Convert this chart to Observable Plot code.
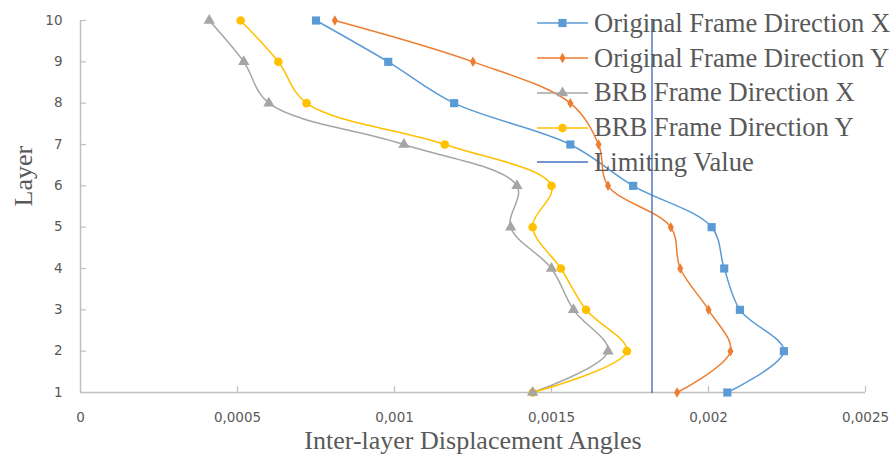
<!DOCTYPE html>
<html>
<head>
<meta charset="utf-8">
<script src="https://cdn.jsdelivr.net/npm/d3@7"></script>
<script src="https://cdn.jsdelivr.net/npm/@observablehq/plot@0.6"></script>
<style>
  html, body { margin: 0; padding: 0; background: #fff; }
  #chart { position: relative; width: 895px; height: 457px; }
  #legend {
    position: absolute; left: 537px; top: 6px;
    font-family: "Liberation Serif", "Times New Roman", serif;
    font-size: 26.6px; color: #595959;
  }
  .row { display: flex; align-items: center; height: 34.75px; white-space: nowrap; }
  .row svg { flex: none; margin-right: 6px; }
</style>
</head>
<body>
<div id="chart"></div>
<script>
// Storey (layer) numbers and tick labels
const layers = [1, 2, 3, 4, 5, 6, 7, 8, 9, 10];
const xTicks = [0, 0.0005, 0.001, 0.0015, 0.002, 0.0025];
const xTickLabels = ["0", "0,0005", "0,001", "0,0015", "0,002", "0,0025"];

// Inter-layer displacement angle per layer (layer 1 → 10)
const originalX = [0.00206, 0.00224, 0.00210, 0.00205, 0.00201, 0.00176, 0.00156, 0.00119, 0.00098, 0.00075];
const originalY = [0.00190, 0.00207, 0.00200, 0.00191, 0.00188, 0.00168, 0.00165, 0.00156, 0.00125, 0.00081];
const brbX      = [0.00144, 0.00168, 0.00157, 0.00150, 0.00137, 0.00139, 0.00103, 0.00060, 0.00052, 0.00041];
const brbY      = [0.00144, 0.00174, 0.00161, 0.00153, 0.00144, 0.00150, 0.00116, 0.00072, 0.00063, 0.00051];

// Code limit for the drift angle
const limitValue = 0.00182;
const limitLayers = [1, 10];

const seriesNames = [
  "Original Frame Direction X",
  "Original Frame Direction Y",
  "BRB Frame Direction X",
  "BRB Frame Direction Y"
];
const seriesValues = [originalX, originalY, brbX, brbY];
const seriesColors = ["#5B9BD5", "#ED7D31", "#A5A5A5", "#FFC000"];
const seriesSymbols = ["square", "diamond", "triangle", "circle"];
const seriesRadius = [4.6, 3.2, 4.2, 4.3];
const limitName = "Limiting Value";
const limitColor = "#4472C4";

const rows = seriesNames.flatMap((name, s) =>
  layers.map((layer, i) => ({series: name, layer, value: seriesValues[s][i], r: seriesRadius[s]}))
);
const limitRows = limitLayers.map(layer => ({layer, value: limitValue}));

const axisGray = "#BFBFBF";
const textGray = "#595959";
const titleFont = "Liberation Serif, Times New Roman, serif";

const plot = Plot.plot({
  width: 895,
  height: 457,
  marginLeft: 80,
  marginRight: 30,
  marginTop: 20,
  marginBottom: 65,
  style: {background: "transparent"},
  x: {domain: [0, 0.0025], ticks: xTicks},
  y: {domain: [1, 10], ticks: layers},
  color: {domain: seriesNames, range: seriesColors},
  symbol: {domain: seriesNames, range: seriesSymbols},
  r: {type: "identity"},
  marks: [
    // axis lines and inward tick marks
    Plot.ruleX([0], {stroke: axisGray, strokeWidth: 1.5}),
    Plot.ruleY([1], {stroke: axisGray, strokeWidth: 1.5}),
    Plot.ruleX(xTicks.slice(1), {stroke: axisGray, strokeWidth: 1.2, insetTop: 366}),
    Plot.ruleY(layers.slice(1), {stroke: axisGray, strokeWidth: 1.2, insetRight: 779}),
    Plot.axisX({
      ticks: xTicks,
      tickSize: 0,
      tickPadding: 20,
      tickFormat: d => xTickLabels[xTicks.indexOf(d)],
      fontFamily: "DejaVu Sans, sans-serif",
      fontSize: 13.5,
      fill: textGray,
      label: null
    }),
    Plot.axisY({
      ticks: layers,
      tickSize: 0,
      tickPadding: 18,
      tickFormat: d => String(d),
      fontFamily: "DejaVu Sans, sans-serif",
      fontSize: 13.5,
      fill: textGray,
      label: null
    }),
    // axis titles
    Plot.text(["Inter-layer Displacement Angles"], {
      frameAnchor: "bottom", lineAnchor: "bottom", dy: 56,
      fontFamily: titleFont, fontSize: 26, fill: textGray
    }),
    Plot.text(["Layer"], {
      frameAnchor: "left", lineAnchor: "bottom", rotate: -90, dx: -49,
      fontFamily: titleFont, fontSize: 26, fill: textGray
    }),
    // smoothed series curves
    Plot.line(rows, {
      x: "value", y: "layer", z: "series", stroke: "series",
      curve: "catmull-rom", strokeWidth: 1.5
    }),
    Plot.dot(rows, {
      x: "value", y: "layer", symbol: "series", fill: "series", r: "r", stroke: "none"
    }),
    // limiting drift angle
    Plot.line(limitRows, {x: "value", y: "layer", stroke: limitColor, strokeWidth: 1.4})
  ]
});

const chart = document.getElementById("chart");
chart.appendChild(plot);

// legend overlaid at the upper right of the plot
const legend = d3.select(chart).append("div").attr("id", "legend");
const entries = seriesNames.map((name, i) => ({
  name, color: seriesColors[i], symbol: seriesSymbols[i], r: seriesRadius[i]
})).concat([{name: limitName, color: limitColor, symbol: null, r: 0}]);

const symbolTypes = {
  square: d3.symbolSquare, diamond: d3.symbolDiamond,
  triangle: d3.symbolTriangle, circle: d3.symbolCircle
};

for (const e of entries) {
  const row = legend.append("div").attr("class", "row");
  const svg = row.append("svg").attr("width", 51).attr("height", 14);
  svg.append("line")
    .attr("x1", 0).attr("x2", 51).attr("y1", 7).attr("y2", 7)
    .attr("stroke", e.color).attr("stroke-width", 1.6);
  if (e.symbol) {
    svg.append("path")
      .attr("transform", "translate(25.5,7)")
      .attr("d", d3.symbol(symbolTypes[e.symbol], Math.PI * e.r * e.r)())
      .attr("fill", e.color);
  }
  row.append("span").text(e.name);
}
</script>
</body>
</html>
